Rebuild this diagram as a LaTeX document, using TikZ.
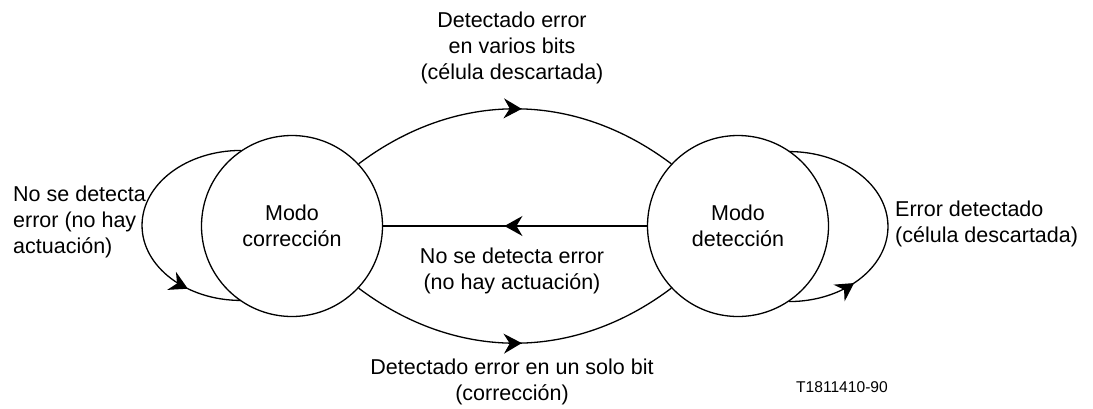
\documentclass[tikz,border=0pt]{standalone}
\usepackage{fontspec}
\setmainfont{Liberation Sans}
\usetikzlibrary{arrows.meta,decorations.markings}
\tikzset{
  state/.style={circle, draw, line width=1.3pt, minimum size=181pt, inner sep=0pt, align=center, font=\fontsize{21.5}{26}\selectfont},
  lbl/.style={align=center, inner sep=0pt, font=\fontsize{21.5}{26}\selectfont},
  conn/.style={line width=1.3pt},
  midarrow/.style={postaction={decorate}, decoration={markings, mark=at position #1 with {\arrow{Stealth[length=18pt,width=20pt,inset=6pt]}}}}
}
\begin{document}
\begin{tikzpicture}[x=1pt,y=1pt]
\useasboundingbox (0,0) rectangle (1093,-408);
\node[state] (L) at (292,-226) {Modo\\corrección};
\node[state] (R) at (738,-226) {Modo\\detección};
% top arc
\draw[conn, midarrow=0.52] (L.43) to[bend left=37] (R.137);
% bottom arc
\draw[conn, midarrow=0.52] (L.-43) to[bend right=37] (R.-137);
% middle line
\draw[conn, midarrow=0.54] (R.west) -- (L.east);
% self loops
\draw[conn, midarrow=0.8] (L.124) arc[start angle=90, end angle=270, x radius=99, y radius=75];
\draw[conn, midarrow=0.25] (R.-56) arc[start angle=-90, end angle=90, x radius=99, y radius=75];
% labels
\node[lbl] (tl) at (512,-48) {Detectado error\\en varios bits\\(célula descartada)};
\node[lbl] (ml) at (512,-271) {No se detecta error\\(no hay actuación)};
\node[lbl] (bl) at (512,-382) {Detectado error en un solo bit\\(corrección)};
\node[lbl, align=left, anchor=west] (ll) at (13,-222) {No se detecta\\error (no hay\\actuación)};
\node[lbl, align=left, anchor=west] (rl) at (895,-224) {Error detectado\\(célula descartada)};
\node[inner sep=0pt, anchor=east, font=\fontsize{15.6}{18}\selectfont] (id) at (888,-387) {T1811410-90};
\end{tikzpicture}
\end{document}
